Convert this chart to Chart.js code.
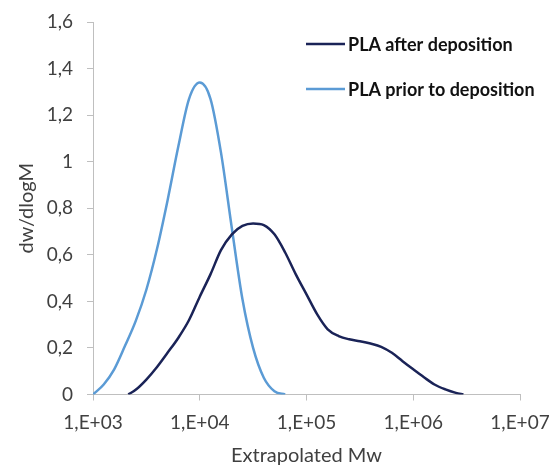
<!DOCTYPE html>
<html>
<head>
<meta charset="utf-8">
<script src="https://cdn.jsdelivr.net/npm/chart.js@4/dist/chart.umd.min.js"></script>
<style>
  html, body { margin: 0; padding: 0; background: #fff; }
  #box { width: 551px; height: 468px; }
</style>
</head>
<body>
<div id="box"><canvas id="myChart"></canvas></div>
<script>
// values, at about 0.1 decade steps
const mwAfter = [2140, 2510, 3160, 3980, 5010, 6310, 7940, 10000, 12600, 15800, 20000, 25100, 31600, 39800, 50100, 63100, 79400,
  100000, 126000, 158000, 200000, 251000, 316000, 398000, 501000, 631000, 794000, 1000000, 1260000, 1580000, 2000000, 2510000, 2950000];
const dwAfter = [0, 0.02, 0.064, 0.118, 0.18, 0.244, 0.32, 0.42, 0.516, 0.62, 0.688, 0.724, 0.735, 0.728, 0.688, 0.61, 0.516,
  0.43, 0.344, 0.28, 0.251, 0.237, 0.229, 0.219, 0.205, 0.179, 0.143, 0.108, 0.074, 0.043, 0.022, 0.007, 0];

const mwPrior = [1000, 1260, 1580, 2000, 2510, 3160, 3980, 5010, 6310, 7940, 10000, 12600, 15800, 20000, 25100, 31600, 39800, 50100, 63100];
const dwPrior = [0, 0.043, 0.108, 0.21, 0.315, 0.45, 0.626, 0.837, 1.067, 1.27, 1.34, 1.27, 1.04, 0.713, 0.41, 0.2, 0.072, 0.014, 0];

const xTicks = [1e3, 1e4, 1e5, 1e6, 1e7];
const xTickLabels = ['1,E+03', '1,E+04', '1,E+05', '1,E+06', '1,E+07'];

const seriesNames = ['PLA after deposition', 'PLA prior to deposition'];
const seriesColors = ['#1a2357', '#5b9bd5'];

const axisGray = '#bfbfbf';
const textGray = '#404040';

function pts(xs, ys) {
  return xs.map((x, i) => ({ x: x, y: ys[i] }));
}

// legend drawn inside the plot, top right
const insideLegend = {
  id: 'insideLegend',
  afterDraw(chart) {
    const ctx = chart.ctx;
    const rows = [44, 89];
    ctx.save();
    ctx.font = 'bold 18px Lato';
    ctx.textBaseline = 'middle';
    ctx.textAlign = 'left';
    rows.forEach((y, i) => {
      ctx.strokeStyle = seriesColors[i];
      ctx.lineWidth = 2.5;
      ctx.beginPath();
      ctx.moveTo(306, y);
      ctx.lineTo(345, y);
      ctx.stroke();
      ctx.fillStyle = '#111';
      ctx.fillText(seriesNames[i], 348, y + 1);
    });
    ctx.restore();
  }
};

new Chart('myChart', {
  type: 'line',
  data: {
    datasets: [{
      label: seriesNames[0],
      data: pts(mwAfter, dwAfter),
      borderColor: seriesColors[0],
      borderWidth: 2.5,
      pointRadius: 0,
      fill: false,
      cubicInterpolationMode: 'monotone'
    }, {
      label: seriesNames[1],
      data: pts(mwPrior, dwPrior),
      borderColor: seriesColors[1],
      borderWidth: 2.5,
      pointRadius: 0,
      fill: false,
      cubicInterpolationMode: 'monotone'
    }]
  },
  options: {
    responsive: true,
    maintainAspectRatio: false,
    animation: false,
    layout: { padding: { top: 22, right: 31, left: 0, bottom: 0 } },
    plugins: {
      legend: { display: false },
      tooltip: { enabled: false }
    },
    scales: {
      x: {
        type: 'logarithmic',
        min: 1e3,
        max: 1e7,
        afterBuildTicks(scale) {
          scale.ticks = xTicks.map(v => ({ value: v }));
        },
        afterFit(scale) {
          scale.height = 468 - 394.5;
          scale.paddingLeft = 0;
          scale.paddingRight = 0;
        },
        ticks: {
          color: textGray,
          font: { family: 'Lato', size: 19 },
          padding: 11,
          maxRotation: 0,
          autoSkip: false,
          callback: (v) => xTickLabels[xTicks.indexOf(v)]
        },
        grid: { drawOnChartArea: false, drawTicks: true, tickLength: 6, color: axisGray, lineWidth: 1 },
        border: { color: axisGray, width: 1 },
        title: {
          display: true,
          text: 'Extrapolated Mw',
          color: textGray,
          font: { family: 'Lato', size: 20 },
          padding: { top: 0, bottom: 0 }
        }
      },
      y: {
        min: 0,
        max: 1.6,
        afterFit(scale) {
          scale.width = 93;
          scale.paddingTop = 0;
          scale.paddingBottom = 0;
        },
        ticks: {
          stepSize: 0.2,
          color: textGray,
          font: { family: 'Lato', size: 19 },
          padding: 14,
          callback: (v) => String(Math.round(v * 10) / 10).replace('.', ',')
        },
        grid: { drawOnChartArea: false, drawTicks: true, tickLength: 6, color: axisGray, lineWidth: 1 },
        border: { color: axisGray, width: 1 },
        title: {
          display: true,
          text: 'dw/dlogM',
          color: textGray,
          font: { family: 'Lato', size: 20 },
          padding: { top: 15, bottom: 0 }
        }
      }
    }
  },
  plugins: [insideLegend]
});
</script>
</body>
</html>
